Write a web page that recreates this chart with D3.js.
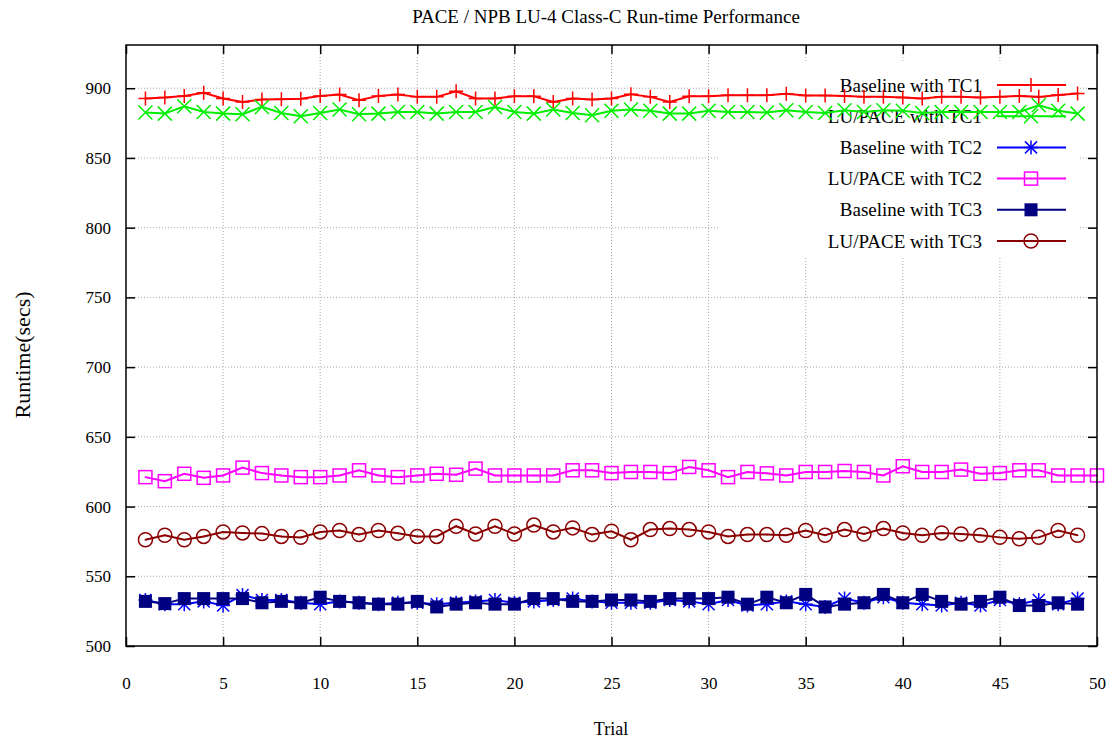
<!DOCTYPE html>
<html>
<head>
<meta charset="utf-8">
<script src="https://cdn.jsdelivr.net/npm/d3@7"></script>
<style>
  html, body { margin: 0; padding: 0; background: #fff; }
  svg { display: block; font-family: "Liberation Serif", "DejaVu Serif", serif; }
</style>
</head>
<body>
<svg id="chart" width="1115" height="738"></svg>
<script>
// Run-time of the NPB LU-4 Class-C benchmark over repeated trials
const baselineTC1 = [892.6, 893.3, 894.5, 896.7, 892.6, 890.2, 891.9, 892.1, 892.4, 894.5,
  895.5, 891.4, 894.5, 895.5, 893.8, 893.8, 897.8, 892.6, 892.6, 894.3,
  894.3, 890.2, 892.6, 891.9, 892.6, 895.7, 893.8, 890.2, 894.3, 894.3,
  895.0, 895.0, 895.0, 896.0, 894.7, 894.7, 894.5, 893.8, 893.8, 893.3,
  892.6, 893.8, 893.8, 893.3, 893.8, 894.5, 893.8, 895.2, 896.2];
const lupaceTC1 = [882.6, 881.8, 887.1, 883.0, 881.8, 881.4, 886.6, 882.3, 879.9, 882.3,
  884.7, 881.4, 881.8, 883.0, 883.0, 881.8, 883.0, 883.0, 886.6, 883.0,
  881.8, 884.7, 882.3, 880.6, 883.8, 884.7, 883.8, 881.8, 881.8, 883.8,
  883.0, 883.0, 882.6, 884.2, 883.0, 882.3, 884.2, 883.0, 884.2, 883.8,
  882.3, 883.0, 883.0, 883.0, 883.0, 883.0, 887.8, 883.8, 881.8];
const baselineTC2 = [533, 530, 530, 532, 529, 536.5, 533, 533, 531, 530,
  532, 531, 530, 531, 531, 530, 531, 532, 533, 531,
  532, 533, 534, 532, 531, 531, 531, 533, 532, 530,
  533, 529, 530, 532, 530, 528, 534, 531, 535, 531,
  530, 529, 531, 529, 533, 530, 533, 530, 534];
const lupaceTC2 = [621.1, 618.2, 623.5, 620.6, 622.3, 627.9, 624.0, 622.3, 621.1, 621.1,
  622.3, 626.0, 622.3, 621.1, 622.3, 623.5, 622.8, 627.2, 622.3, 622.3,
  622.3, 622.3, 626.0, 626.0, 624.0, 624.8, 624.8, 624.0, 628.4, 626.0,
  621.1, 624.8, 623.8, 622.3, 624.8, 624.8, 625.5, 624.8, 622.3, 628.9,
  624.8, 624.8, 626.5, 623.5, 624.0, 626.0, 626.0, 622.3, 622.3, 622.3];
const baselineTC3 = [532, 530.4, 534, 534, 534, 534, 531, 532, 531, 535,
  532, 531, 530, 530, 532, 528, 530, 531, 530, 530,
  534, 534, 532, 532, 533, 533, 532, 534, 534, 534,
  535, 530, 535, 531, 537, 528, 530, 531, 537, 531,
  537, 532, 530, 532, 535, 529, 529, 531, 530];
const lupaceTC3 = [576.2, 579.4, 576.2, 578.6, 581.8, 581.1, 580.6, 578.6, 577.9, 581.8,
  582.8, 579.9, 582.8, 580.8, 578.6, 578.6, 585.9, 580.3, 585.9, 580.3,
  586.7, 581.8, 584.7, 579.9, 582.3, 576.2, 583.5, 584.2, 583.5, 581.8,
  578.6, 579.9, 579.9, 579.4, 582.8, 579.4, 583.5, 580.3, 584.2, 581.1,
  579.4, 581.1, 580.3, 579.4, 577.9, 576.9, 577.9, 582.8, 579.4];

const seriesNames = ["Baseline with TC1", "LU/PACE with TC1", "Baseline with TC2",
  "LU/PACE with TC2", "Baseline with TC3", "LU/PACE with TC3"];
const xTicks = [0, 5, 10, 15, 20, 25, 30, 35, 40, 45, 50];
const yTicks = [500, 550, 600, 650, 700, 750, 800, 850, 900];

const series = [
  { name: seriesNames[0], values: baselineTC1, color: "#ff0000", marker: "plus" },
  { name: seriesNames[1], values: lupaceTC1, color: "#00ee00", marker: "cross" },
  { name: seriesNames[2], values: baselineTC2, color: "#0000ff", marker: "star" },
  { name: seriesNames[3], values: lupaceTC2, color: "#ff00ff", marker: "box" },
  { name: seriesNames[4], values: baselineTC3, color: "#000080", marker: "fbox" },
  { name: seriesNames[5], values: lupaceTC3, color: "#8b0000", marker: "circle" }
];

const svg = d3.select("#chart");
const plotLeft = 126, plotRight = 1097, plotTop = 45, plotBottom = 646;

const x = d3.scaleLinear().domain([0, 50]).range([plotLeft, plotRight]);
const y = d3.scaleLinear().domain([500, 931]).range([plotBottom, plotTop]);

// Grid
const grid = svg.append("g").attr("stroke", "#a8a8a8").attr("stroke-width", 1)
  .attr("stroke-dasharray", "1,2");
xTicks.slice(1, -1).forEach(t => {
  grid.append("line").attr("x1", x(t)).attr("x2", x(t)).attr("y1", plotTop).attr("y2", plotBottom);
});
yTicks.slice(1).forEach(t => {
  grid.append("line").attr("x1", plotLeft).attr("x2", plotRight).attr("y1", y(t)).attr("y2", y(t));
});

// Axes with inward ticks, mirrored on the opposite side
const axisStyle = g => {
  g.select(".domain").remove();
  g.selectAll(".tick line").attr("stroke", "#000").attr("stroke-width", 1.5);
  g.selectAll(".tick text").attr("fill", "#000").attr("font-size", 17)
    .attr("font-family", "Liberation Serif, serif");
};
svg.append("g").attr("transform", `translate(0,${plotBottom})`)
  .call(d3.axisBottom(x).tickValues(xTicks).tickSizeInner(-9).tickPadding(31).tickFormat(d3.format("d")))
  .call(axisStyle);
svg.append("g").attr("transform", `translate(0,${plotTop})`)
  .call(d3.axisTop(x).tickValues(xTicks).tickSizeInner(-9).tickFormat(""))
  .call(axisStyle);
svg.append("g").attr("transform", `translate(${plotLeft},0)`)
  .call(d3.axisLeft(y).tickValues(yTicks).tickSizeInner(-9).tickPadding(15).tickFormat(d3.format("d")))
  .call(axisStyle);
svg.append("g").attr("transform", `translate(${plotRight},0)`)
  .call(d3.axisRight(y).tickValues(yTicks).tickSizeInner(-9).tickFormat(""))
  .call(axisStyle);

// Key background hides the grid behind it
const keyX = 718, keyY = 62, rowH = 31.2;
svg.append("rect").attr("x", keyX).attr("y", keyY).attr("width", 360).attr("height", 196)
  .attr("fill", "#fff");

function drawMarker(g, type, cx, cy, color) {
  const s = 7;
  if (type === "plus" || type === "star") {
    g.append("path").attr("d", `M${cx - s},${cy}H${cx + s}M${cx},${cy - s}V${cy + s}`)
      .attr("stroke", color).attr("stroke-width", 1.5).attr("fill", "none");
  }
  if (type === "cross" || type === "star") {
    const k = type === "star" ? 6 : 7;
    g.append("path").attr("d", `M${cx - k},${cy - k}L${cx + k},${cy + k}M${cx - k},${cy + k}L${cx + k},${cy - k}`)
      .attr("stroke", color).attr("stroke-width", 1.5).attr("fill", "none");
  }
  if (type === "box") {
    g.append("rect").attr("x", cx - 6.5).attr("y", cy - 6.5).attr("width", 13).attr("height", 13)
      .attr("stroke", color).attr("stroke-width", 1.5).attr("fill", "none");
    g.append("rect").attr("x", cx - 0.75).attr("y", cy - 0.75).attr("width", 1.5).attr("height", 1.5)
      .attr("fill", color);
  }
  if (type === "fbox") {
    g.append("rect").attr("x", cx - 6.5).attr("y", cy - 6.5).attr("width", 13).attr("height", 13)
      .attr("fill", color);
  }
  if (type === "circle") {
    g.append("circle").attr("cx", cx).attr("cy", cy).attr("r", 7)
      .attr("stroke", color).attr("stroke-width", 1.5).attr("fill", "none");
    g.append("rect").attr("x", cx - 0.75).attr("y", cy - 0.75).attr("width", 1.5).attr("height", 1.5)
      .attr("fill", color);
  }
}

// Key entries
const key = svg.append("g");
series.forEach((s, i) => {
  const cy = 85 + i * rowH;
  key.append("text").attr("x", 982).attr("y", cy).attr("dy", "0.35em")
    .attr("text-anchor", "end").attr("font-size", 19).attr("fill", "#000").text(s.name);
  key.append("line").attr("x1", 997).attr("x2", 1066).attr("y1", cy).attr("y2", cy)
    .attr("stroke", s.color).attr("stroke-width", 2);
  drawMarker(key, s.marker, 1031, cy, s.color);
});

// Data lines and markers
const line = d3.line().x((d, i) => x(i + 1)).y(d => y(d));
series.forEach(s => {
  const g = svg.append("g");
  g.append("path").datum(s.values).attr("d", line)
    .attr("fill", "none").attr("stroke", s.color).attr("stroke-width", 2);
  s.values.forEach((v, i) => drawMarker(g, s.marker, x(i + 1), y(v), s.color));
});

// Frame
svg.append("rect").attr("x", plotLeft).attr("y", plotTop)
  .attr("width", plotRight - plotLeft).attr("height", plotBottom - plotTop)
  .attr("fill", "none").attr("stroke", "#000").attr("stroke-width", 1.5);

// Titles
svg.append("text").attr("x", 606).attr("y", 23).attr("text-anchor", "middle")
  .attr("font-size", 19).attr("fill", "#000").text("PACE / NPB LU-4 Class-C Run-time Performance");
svg.append("text").attr("x", 611).attr("y", 735).attr("text-anchor", "middle")
  .attr("font-size", 18).attr("fill", "#000").text("Trial");
svg.append("text").attr("transform", "translate(30,355) rotate(-90)").attr("text-anchor", "middle")
  .attr("font-size", 22).attr("fill", "#000").text("Runtime(secs)");
</script>
</body>
</html>
